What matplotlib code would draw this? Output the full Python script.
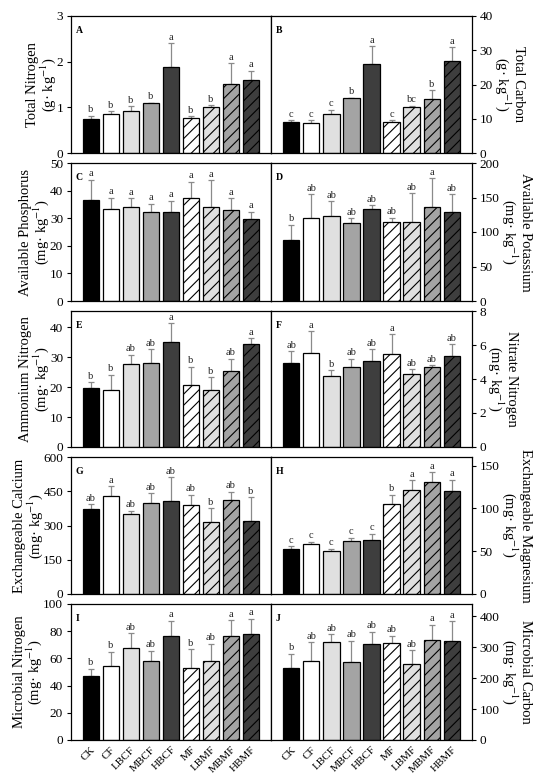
import numpy as np
import matplotlib
matplotlib.use('Agg')
import matplotlib.pyplot as plt

plt.rcParams['font.family'] = ['Liberation Serif', 'DejaVu Serif']
plt.rcParams['mathtext.fontset'] = 'stix'
plt.rcParams['hatch.linewidth'] = 0.8

trt = ['CK', 'CF', 'LBCF', 'MBCF', 'HBCF', 'MF', 'LBMF', 'MBMF', 'HBMF']

# means, sd (upper error), significance letters
tn = [0.74, 0.85, 0.93, 1.09, 1.89, 0.77, 1.00, 1.51, 1.60]
tn_sd = [0.08, 0.07, 0.10, 0.01, 0.51, 0.04, 0.05, 0.46, 0.20]
tn_let = ['b', 'b', 'b', 'b', 'a', 'b', 'b', 'a', 'a']

tc = [9.1, 8.9, 11.4, 16.0, 26.0, 9.1, 13.4, 15.7, 26.9]
tc_sd = [0.4, 0.6, 1.2, 0.2, 5.1, 0.4, 0.4, 2.7, 4.0]
tc_let = ['c', 'c', 'c', 'b', 'a', 'c', 'bc', 'b', 'a']

ap = [36.7, 33.5, 34.2, 32.2, 32.2, 37.5, 33.9, 33.1, 29.7]
ap_sd = [7.3, 3.9, 3.0, 3.1, 4.2, 5.7, 9.9, 4.2, 2.7]
ap_let = ['a'] * 9

ak = [88, 120.7, 122.7, 113.4, 134, 114.4, 114.4, 136.9, 129]
ak_sd = [22.5, 34.3, 22.3, 6.4, 4.8, 6.3, 41.6, 41.5, 26]
ak_let = ['b', 'ab', 'ab', 'ab', 'ab', 'ab', 'ab', 'a', 'ab']

nh = [19.8, 19.2, 27.8, 28.1, 35.2, 20.6, 19.1, 25.3, 34.5]
nh_sd = [1.9, 5.0, 3.1, 4.6, 6.3, 6.3, 4.2, 4.2, 1.9]
nh_let = ['b', 'b', 'ab', 'ab', 'a', 'b', 'b', 'ab', 'a']

no = [4.94, 5.55, 4.15, 4.69, 5.08, 5.47, 4.31, 4.69, 5.37]
no_sd = [0.69, 1.26, 0.38, 0.51, 0.67, 1.16, 0.26, 0.11, 0.67]
no_let = ['ab', 'a', 'b', 'ab', 'ab', 'a', 'ab', 'ab', 'ab']

ca = [372, 428, 349, 400, 406, 390, 315, 413, 320]
ca_sd = [22, 44, 15, 42, 105, 45, 60, 35, 105]
ca_let = ['ab', 'a', 'ab', 'ab', 'ab', 'ab', 'b', 'ab', 'b']

mg = [53, 58, 50, 61.5, 63, 104.6, 121, 131, 120.4]
mg_sd = [2.8, 3, 2.7, 4.3, 7.4, 11.2, 11.7, 11.3, 13.1]
mg_let = ['c', 'c', 'c', 'c', 'c', 'b', 'a', 'a', 'a']

mbn = [47, 54.6, 67.3, 57.8, 76.3, 53.2, 57.8, 76.3, 78.3]
mbn_sd = [5.4, 10.3, 11.2, 7.8, 11.5, 13.6, 12.9, 12, 11]
mbn_let = ['b', 'b', 'ab', 'ab', 'a', 'b', 'ab', 'a', 'a']

mbc = [233.5, 255, 318, 253, 310, 315, 245, 324, 320]
mbc_sd = [45.5, 61, 25, 68, 40, 22, 45, 49, 64]
mbc_let = ['b', 'ab', 'ab', 'ab', 'ab', 'ab', 'ab', 'a', 'a']

cols = ['#000000', '#ffffff', '#e0e0e0', '#a4a4a4', '#3e3e3e',
        '#ffffff', '#e0e0e0', '#a4a4a4', '#3e3e3e']
hat = ['', '', '', '', '', '///', '///', '///', '///']

panels = [
    ('A', tn, tn_sd, tn_let, 'Total Nitrogen', 'g', 3, np.arange(0, 3.1, 1)),
    ('B', tc, tc_sd, tc_let, 'Total Carbon', 'g', 40, np.arange(0, 41, 10)),
    ('C', ap, ap_sd, ap_let, 'Available Phosphorus', 'mg', 50, np.arange(0, 51, 10)),
    ('D', ak, ak_sd, ak_let, 'Available Potassium', 'mg', 200, np.arange(0, 201, 50)),
    ('E', nh, nh_sd, nh_let, 'Ammonium Nitrogen', 'mg', 45.5, np.arange(0, 41, 10)),
    ('F', no, no_sd, no_let, 'Nitrate Nitrogen', 'mg', 8, np.arange(0, 9, 2)),
    ('G', ca, ca_sd, ca_let, 'Exchangeable Calcium', 'mg', 600, np.arange(0, 601, 150)),
    ('H', mg, mg_sd, mg_let, 'Exchangeable Magnesium', 'mg', 160, np.arange(0, 151, 50)),
    ('I', mbn, mbn_sd, mbn_let, 'Microbial Nitrogen', 'mg', 100, np.arange(0, 101, 20)),
    ('J', mbc, mbc_sd, mbc_let, 'Microbial Carbon', 'mg', 440, np.arange(0, 401, 100)),
]

fig = plt.figure(figsize=(5.5, 7.78), dpi=100)
W, H = 550.0, 778.0
rows = [(16, 153), (163, 301), (311, 447), (457, 594), (604, 740)]
lefts = [(70.7, 271), (271, 472)]
x = np.arange(9)

for k, (tag, m, sd, let, name, unit, top, ticks) in enumerate(panels):
    r = k // 2
    c = k % 2
    y0, y1 = rows[r]
    x0, x1 = lefts[c]
    ax = fig.add_axes([x0 / W, 1 - y1 / H, (x1 - x0) / W, (y1 - y0) / H])
    ax.errorbar(x, m, yerr=[np.zeros(9), sd], fmt='none', ecolor='#8a8a8a',
                elinewidth=0.9, capsize=2.5, capthick=0.9, zorder=1)
    ax.bar(x, m, width=0.82, color=cols, hatch=hat, edgecolor='black',
           linewidth=0.9, zorder=2)
    for i in range(9):
        ax.annotate(let[i], (x[i], m[i] + sd[i]), xytext=(0, 1),
                    textcoords='offset points', ha='center', va='bottom',
                    fontsize=7.5, color='#222222')
    ax.set_xlim(-1, 9)
    ax.set_ylim(0, top)
    ax.set_yticks(ticks)
    ax.text(0.025, 0.93, tag, transform=ax.transAxes, fontsize=7,
            fontweight='bold', va='top')
    for s in ax.spines.values():
        s.set_linewidth(0.9)
    ax.tick_params(axis='y', direction='out', length=3, labelsize=9.5, pad=2.5)
    ax.tick_params(axis='x', length=0)
    if r == 4:
        ax.set_xticks(x)
        ax.set_xticklabels(trt, rotation=45, ha='right', rotation_mode='anchor',
                           fontsize=8)
    else:
        ax.set_xticks([])
    lab = name + '\n(' + unit + '· kg$^{-1}$)'
    if c == 0:
        ax.set_ylabel(lab, fontsize=10.5, linespacing=0.95, labelpad=-1)
    else:
        ax.yaxis.tick_right()
        ax.tick_params(axis='y', left=False, right=True)
        ax.yaxis.set_label_position('right')
        ax.set_ylabel(lab, fontsize=10.5, linespacing=0.95, rotation=270,
                      va='bottom', labelpad=0)

fig.savefig('out.png', dpi=100)
